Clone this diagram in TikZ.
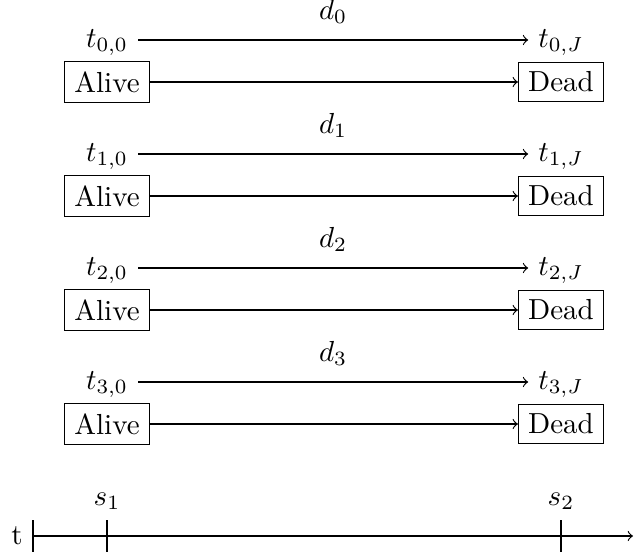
\documentclass[tikz,border=0pt]{standalone}
\begin{document}
\begin{tikzpicture}[x=0.01212cm,y=-0.01212cm,
  box/.style={draw,inner sep=3.33pt},
  lbl/.style={text height=1.5ex,text depth=0.35ex},
  conn/.style={->}]
\useasboundingbox (0,0) rectangle (634,552);
\foreach \i/\y in {0/40,1/154,2/268,3/382} {
  \node[lbl] (ts\i) at (107,\y) {$t_{\i,0}$};
  \node[lbl] (te\i) at (561,\y) {$t_{\i,J}$};
  \draw[conn] (ts\i) -- node[above=2pt] (d\i) {$d_{\i}$} (te\i);
  \node[box] (a\i) at (107,\y+42) {Alive};
  \node[box] (b\i) at (561,\y+42) {Dead};
  \draw[conn] (a\i) -- (b\i);
}
% time axis
\coordinate (o) at (33,536);
\coordinate (e) at (633,536);
\coordinate (p1) at (107,536);
\coordinate (p2) at (561,536);
\draw[conn] (o) -- (e);
\draw (33,520) -- (33,552);
\draw (107,520) coordinate (p1t) -- (107,552);
\draw (561,520) coordinate (p2t) -- (561,552);
\node[anchor=east] (tl) at (o) {t};
\node[anchor=south] (s1) at (p1t) {$s_1$};
\node[anchor=south] (s2) at (p2t) {$s_2$};
\end{tikzpicture}
\end{document}
